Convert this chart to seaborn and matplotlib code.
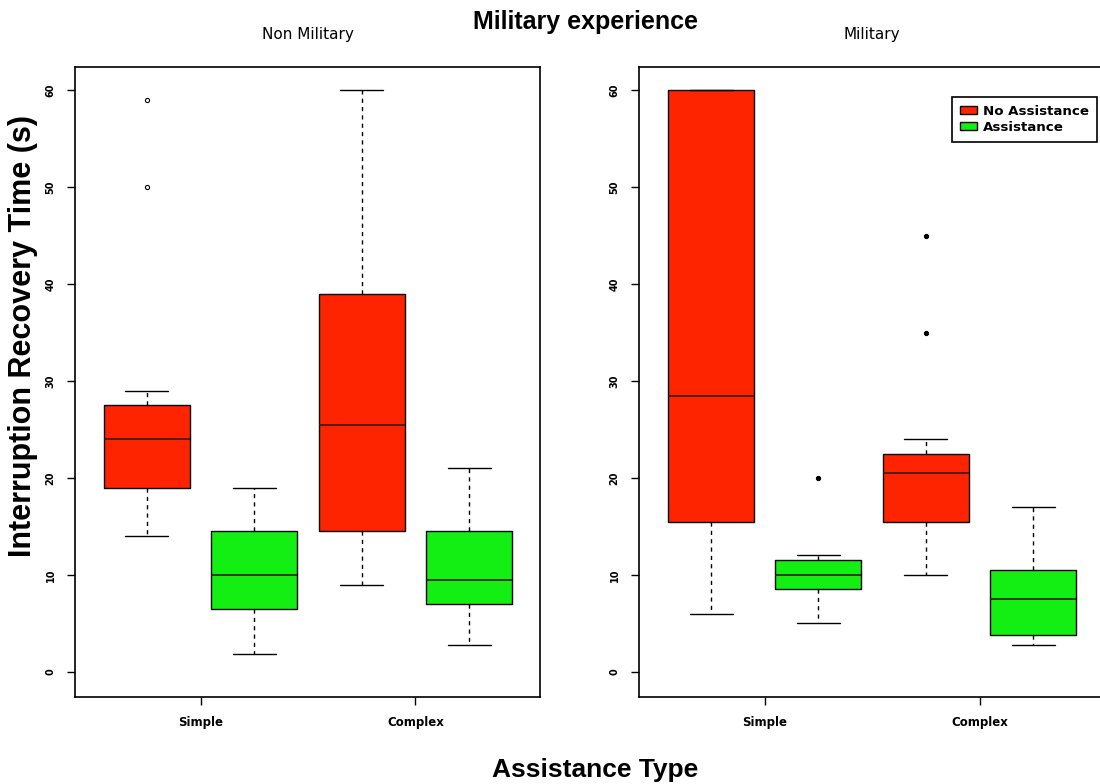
import matplotlib
matplotlib.use("Agg")
import matplotlib.pyplot as plt
import seaborn as sns
from matplotlib.patches import Patch

# Box summaries, ordered: Simple/No Assistance, Simple/Assistance,
# Complex/No Assistance, Complex/Assistance
task_types = ["Simple", "Complex"]
conditions = ["No Assistance", "Assistance"]

nonmil_whislo = [14, 1.8, 9, 2.8]
nonmil_q1 = [19, 6.5, 14.5, 7]
nonmil_med = [24, 10, 25.5, 9.5]
nonmil_q3 = [27.5, 14.5, 39, 14.5]
nonmil_whishi = [29, 19, 60, 21]
nonmil_fliers = [[50, 59], [], [], []]

mil_whislo = [6, 5, 10, 2.8]
mil_q1 = [15.5, 8.5, 15.5, 3.8]
mil_med = [28.5, 10, 20.5, 7.5]
mil_q3 = [60, 11.5, 22.5, 10.5]
mil_whishi = [60, 12, 24, 17]
mil_fliers = [[], [20], [35, 45], []]

y_ticks = [0, 10, 20, 30, 40, 50, 60]

sns.set_theme(style="white")
plt.rcParams["font.family"] = ["Liberation Sans", "DejaVu Sans"]
for key in ["text.color", "axes.labelcolor", "xtick.color", "ytick.color"]:
    plt.rcParams[key] = "black"

palette = sns.color_palette(["#ff2400", "#13ee13"])
tick_font = dict(family=["DejaVu Sans"], fontweight="bold")

fig = plt.figure(figsize=(11, 7.84), dpi=100)
ax_l = fig.add_axes([0.0682, 0.111, 0.4227, 0.8036])
ax_r = fig.add_axes([0.581, 0.111, 0.4227, 0.8036])


def stats_list(whislo, q1, med, q3, whishi, fliers):
    return [dict(whislo=a, q1=b, med=c, q3=d, whishi=e, fliers=f)
            for a, b, c, d, e, f in zip(whislo, q1, med, q3, whishi, fliers)]


def draw_panel(ax, stats, title, flier_fill):
    positions = [1, 2, 3, 4]
    bp = ax.bxp(stats, positions=positions, widths=0.8, patch_artist=True,
                showfliers=True,
                boxprops=dict(edgecolor="black", linewidth=1.0),
                medianprops=dict(color="#3a1a10", linewidth=1.2),
                whiskerprops=dict(color="black", linewidth=1.0, linestyle=(0, (3, 3))),
                capprops=dict(color="black", linewidth=1.0),
                capwidths=0.4,
                flierprops=dict(marker="o", markersize=3,
                                markerfacecolor=flier_fill,
                                markeredgecolor="black", markeredgewidth=0.8))
    for i, box in enumerate(bp["boxes"]):
        box.set_facecolor(palette[i % 2])
    ax.set_xlim(0.33, 4.66)
    ax.set_ylim(-2.6, 62.4)
    ax.set_yticks(y_ticks)
    ax.set_yticklabels([str(v) for v in y_ticks], rotation=90, va="center",
                       fontsize=7, **tick_font)
    ax.set_xticks([1.5, 3.5])
    ax.set_xticklabels(task_types, fontsize=8.5, **tick_font)
    ax.tick_params(axis="both", direction="out", length=6, width=1,
                   color="black", left=True, bottom=True, pad=8)
    for s in ax.spines.values():
        s.set_color("black")
        s.set_linewidth(1.2)
    ax.set_title(title, fontsize=11, pad=20, family=["DejaVu Sans"])
    ax.grid(False)


draw_panel(ax_l, stats_list(nonmil_whislo, nonmil_q1, nonmil_med, nonmil_q3,
                            nonmil_whishi, nonmil_fliers), "Non Military", "white")
draw_panel(ax_r, stats_list(mil_whislo, mil_q1, mil_med, mil_q3,
                            mil_whishi, mil_fliers), "Military", "black")

handles = [Patch(facecolor=palette[0], edgecolor="black", label=conditions[0]),
           Patch(facecolor=palette[1], edgecolor="black", label=conditions[1])]
leg = ax_r.legend(handles=handles, loc="upper left", bbox_to_anchor=(0.673, 0.952),
                  frameon=True, fancybox=False, framealpha=1, edgecolor="black",
                  borderpad=0.6, borderaxespad=0, handlelength=1.3,
                  handleheight=0.55, handletextpad=0.4, labelspacing=0.2,
                  prop=dict(size=9.6, weight="bold", family=["DejaVu Sans"]))
leg.get_frame().set_linewidth(1.2)

fig.text(0.532, 0.972, "Military experience", ha="center", va="center",
         fontsize=18, fontweight="bold")
fig.text(0.541, 0.018, "Assistance Type", ha="center", va="center",
         fontsize=19, fontweight="bold")
fig.text(0.021, 0.571, "Interruption Recovery Time (s)", ha="center", va="center",
         rotation=90, fontsize=22, fontweight="bold")

fig.savefig("out.png", dpi=100)
